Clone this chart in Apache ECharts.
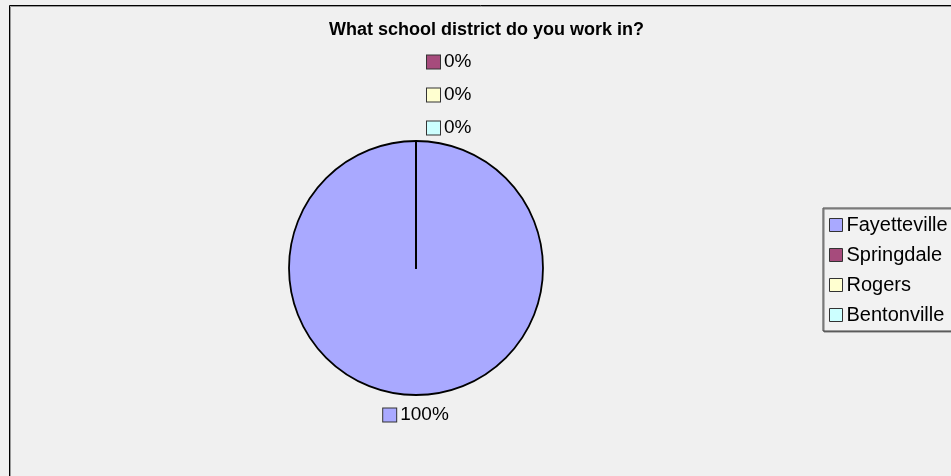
<!DOCTYPE html>
<html>
<head>
<meta charset="utf-8">
<title>What school district do you work in?</title>
<script src="https://cdn.jsdelivr.net/npm/echarts@6/dist/echarts.min.js"></script>
<style>
  html, body { margin: 0; padding: 0; background: #f0f0f0; }
  #chart { width: 951px; height: 476px; }
</style>
</head>
<body>
<div id="chart"></div>
<script>
// Survey responses per district
const districts = ['Fayetteville', 'Springdale', 'Rogers', 'Bentonville'];
const responses = [1, 0, 0, 0];
const sliceColors = ['#a9a9ff', '#a64b7c', '#ffffd0', '#ccffff'];
const titleText = 'What school district do you work in?';

const pieCenter = [416, 268];
const pieRadius = 127;
const FONT = '"Liberation Sans", Arial, sans-serif';

// Each data label carries a small swatch in the slice colour
const rich = { t: { fontSize: 19, fontFamily: FONT, color: '#000', padding: [0, 0, 0, 4] } };
sliceColors.forEach((c, i) => {
  rich['b' + i] = { width: 13, height: 13, backgroundColor: c, borderColor: '#333', borderWidth: 1 };
});

const chart = echarts.init(document.getElementById('chart'));
chart.setOption({
  backgroundColor: '#f0f0f0',
  animation: false,
  title: {
    text: titleText,
    left: 329,
    top: 21,
    padding: 0,
    textStyle: { fontFamily: FONT, fontSize: 18, fontWeight: 'bold', color: '#000' }
  },
  graphic: [{
    type: 'rect',
    silent: true,
    shape: { x: 9.5, y: 5.5, width: 2000, height: 2000 },
    style: { fill: 'none', stroke: '#000', lineWidth: 1, shadowColor: '#999', shadowOffsetX: 1, shadowOffsetY: 1 }
  }],
  legend: {
    orient: 'vertical',
    left: 823,
    top: 208,
    padding: [7, 12, 6, 6],
    itemGap: 10,
    itemWidth: 13,
    itemHeight: 13,
    icon: 'rect',
    backgroundColor: '#f2f2f2',
    borderColor: '#404040',
    borderWidth: 1,
    shadowColor: '#777',
    shadowOffsetX: 1,
    shadowOffsetY: 1,
    itemStyle: { borderColor: '#333', borderWidth: 1 },
    textStyle: { fontFamily: FONT, fontSize: 20, color: '#000', padding: [0, 0, 0, -1], lineHeight: 19 },
    data: districts
  },
  series: [{
    type: 'pie',
    center: pieCenter,
    radius: pieRadius,
    startAngle: 90,
    clockwise: true,
    avoidLabelOverlap: false,
    itemStyle: { borderColor: '#000', borderWidth: 1.8 },
    emphasis: { disabled: true },
    labelLine: { show: false },
    label: {
      show: true,
      position: 'outside',
      formatter: p => '{b' + p.dataIndex + '|}{t|' + Math.round(p.percent) + '%}',
      rich: rich
    },
    labelLayout: p => {
      if (p.dataIndex === 0) {
        return { x: pieCenter[0], y: pieCenter[1] + pieRadius + 20, align: 'center', verticalAlign: 'middle' };
      }
      return {
        x: pieCenter[0] + 11,
        y: pieCenter[1] - pieRadius - 13 - (districts.length - 1 - p.dataIndex) * 33,
        align: 'left',
        verticalAlign: 'middle'
      };
    },
    data: districts.map((name, i) => ({ name: name, value: responses[i], itemStyle: { color: sliceColors[i] } }))
  }]
});
</script>
</body>
</html>
